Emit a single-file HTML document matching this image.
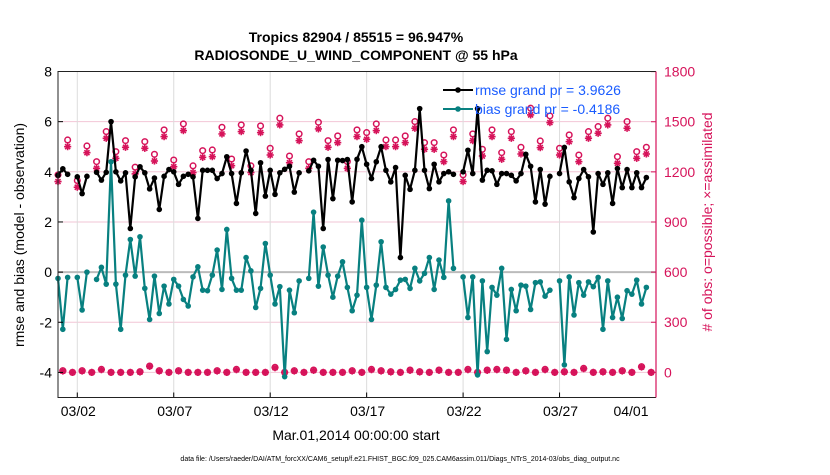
<!DOCTYPE html>
<html><head><meta charset="utf-8"><style>
body{margin:0;background:#fff;}
svg text{font-family:"Liberation Sans",sans-serif;}
</style></head><body>
<svg id="chart" width="830" height="470" viewBox="0 0 830 470" xmlns="http://www.w3.org/2000/svg">
<rect width="830" height="470" fill="#fff"/>
<text x="356" y="42" text-anchor="middle" font-size="14" font-weight="bold">Tropics 82904 / 85515 = 96.947%</text>
<text x="356" y="60" text-anchor="middle" font-size="14" font-weight="bold">RADIOSONDE_U_WIND_COMPONENT @ 55 hPa</text>
<g id="grid"></g>
<g id="marks"></g>
<g id="axes"></g>
<text x="356" y="440" text-anchor="middle" font-size="14">Mar.01,2014 00:00:00 start</text>
<text transform="translate(24,235) rotate(-90)" text-anchor="middle" font-size="14">rmse and bias (model - observation)</text>
<text transform="translate(712,222) rotate(-90)" text-anchor="middle" font-size="14" fill="#d6135a"># of obs: o=possible; ×=assimilated</text>
<text x="400" y="461" text-anchor="middle" font-size="7">data file: /Users/raeder/DAI/ATM_forcXX/CAM6_setup/f.e21.FHIST_BGC.f09_025.CAM6assim.011/Diags_NTrS_2014-03/obs_diag_output.nc</text>
<g>
<line x1="443" y1="90" x2="473" y2="90" stroke="#000" stroke-width="2"/><circle cx="458" cy="90" r="2.8" fill="#000"/>
<text x="475" y="95" font-size="14" fill="#1a5cff">rmse grand pr = 3.9626</text>
<line x1="443" y1="109" x2="473" y2="109" stroke="#088080" stroke-width="2"/><circle cx="458" cy="109" r="2.8" fill="#088080"/>
<text x="475" y="114" font-size="14" fill="#1a5cff">bias grand pr = -0.4186</text>
</g>
</svg>
<script>
const rmse=[3.86,4.12,3.9,null,3.8,3.13,3.82,null,3.98,3.67,3.98,6.0,4.0,3.64,3.96,1.74,3.8,4.2,3.96,3.32,3.75,2.5,3.82,4.09,4.0,3.5,3.82,3.9,3.8,2.14,4.06,4.06,4.06,3.73,3.93,4.6,3.93,2.74,3.96,4.83,4.06,2.34,4.36,3.03,4.06,3.1,3.96,4.1,4.22,3.19,3.96,null,4.04,4.46,4.22,1.74,4.49,2.93,4.46,4.45,4.49,2.8,4.5,5.0,4.3,3.73,4.4,5.0,4.06,3.6,4.17,0.58,3.86,3.3,4.06,6.52,4.06,3.33,4.3,3.6,3.93,4.0,3.9,null,4.0,4.86,3.93,6.52,3.67,4.06,4.04,3.5,3.93,3.93,3.86,3.64,3.93,4.7,4.22,2.8,4.09,2.71,3.82,null,3.93,4.97,3.6,2.97,3.73,4.09,3.8,1.6,3.93,3.5,3.96,2.74,4.13,3.37,4.09,3.37,3.96,3.37,3.77,null];
const bias=[-0.25,-2.28,-0.21,null,-0.21,-1.51,0,null,-0.29,0.19,-0.48,4.4,-0.48,-2.28,-0.12,1.3,-0.16,1.41,-0.65,-1.89,-0.16,-1.65,-0.56,-1.27,-0.29,-0.56,-1.09,-1.35,-0.19,0.21,-0.72,-0.74,-0.12,0.88,-0.69,1.7,-0.25,-0.72,-0.72,0.58,0.05,-1.41,-0.65,1.14,-0.12,-1.27,-0.58,-4.17,-0.72,-1.62,-0.35,null,-0.25,2.39,-0.56,1.0,-0.12,-1.0,-0.16,0.41,-0.61,-1.54,-0.92,2.07,-0.61,-1.89,-0.52,1.21,-0.61,-0.88,-0.69,-0.32,-0.29,-0.65,0.15,-0.35,-0.05,0.58,-0.69,0.48,-0.21,2.84,0.15,null,-0.19,-1.81,-0.19,-4.1,-0.35,-3.17,-0.61,-0.92,0.15,-2.68,-0.69,-1.54,-0.52,-0.56,-1.49,-0.42,-0.39,-0.96,-0.72,null,-0.35,-3.7,-0.19,-1.71,-0.42,-0.92,-0.39,-0.58,-0.21,-2.28,-0.35,-1.81,-1.0,-1.85,-0.74,-0.88,-0.32,-1.27,-0.61,null];
// counts at 00Z/12Z (even indices)
const possible12=[1182,1391,1148,1355,1261,1441,1321,1387,1228,1381,1305,1451,1271,1487,1236,1327,1331,1467,1277,1481,1236,1475,1341,1521,1295,1427,1261,1497,1387,1415,1261,1451,1435,1487,1391,1391,1415,1501,1375,1375,1301,1451,1182,1427,1335,1451,1315,1441,1347,1581,1385,1535,1341,1421,1301,1441,1471,1521,1291,1501,1321,1347];
const assim12=[1142,1351,1108,1315,1221,1401,1281,1347,1188,1341,1265,1411,1231,1447,1196,1287,1291,1427,1237,1441,1196,1435,1301,1481,1255,1387,1221,1457,1347,1375,1221,1411,1395,1447,1351,1351,1375,1461,1335,1335,1261,1411,1142,1387,1295,1411,1275,1401,1307,1541,1345,1495,1301,1381,1261,1401,1431,1481,1251,1461,1281,1307];
// counts at 06Z/18Z (odd indices)
const possible06=[10,0,10,0,18,0,0,0,4,38,10,0,10,0,0,0,10,0,18,0,0,0,30,0,10,0,14,0,0,0,10,0,18,10,4,0,14,4,0,14,0,0,18,0,14,18,14,0,10,0,18,0,4,0,24,0,4,0,10,0,34,0];
const assim06=[8,0,8,0,16,0,0,0,2,36,8,0,8,0,0,0,8,0,16,0,0,0,28,0,8,0,12,0,0,0,8,0,16,8,2,0,12,2,0,12,0,0,16,0,12,16,12,0,8,0,16,0,2,0,22,0,2,0,8,0,32,0];
const dateTicks=["03/02","03/07","03/12","03/17","03/22","03/27","04/01"];
const dateTickDays=[1,6,11,16,21,26,31];
const leftTicks=[8,6,4,2,0,-2,-4];
const rightTicks=[1800,1500,1200,900,600,300,0];

const X0=58,X1=656,Y0=71.5,Y1=397.5;
const NS='http://www.w3.org/2000/svg';
const xDay=d=>X0+(X1-X0)*d/31;
const xIdx=i=>xDay(i*0.25);
const yL=v=>Y0+(8-v)*(Y1-Y0)/13;
const yR=c=>yL(0)+100.25-c*(200.5/1200);
function mk(tag,attrs,parent){const e=document.createElementNS(NS,tag);for(const k in attrs)e.setAttribute(k,attrs[k]);parent.appendChild(e);return e;}
const grid=document.getElementById('grid'),marks=document.getElementById('marks'),axes=document.getElementById('axes');

leftTicks.forEach(v=>{
  if(v!==0){const l=mk('line',{x1:X0,x2:X1,y1:yL(v),y2:yL(v),stroke:'#f2c6d6','stroke-width':1},grid);
  
  }
  const t=mk('text',{x:X0-6,y:yL(v)+5,'text-anchor':'end','font-size':14},axes);t.textContent=v;
  
  
  mk('line',{x1:X0,x2:X0+5,y1:yL(v),y2:yL(v),stroke:'#000'},axes);
});
dateTickDays.forEach((d,k)=>{
  const l=mk('line',{x1:xDay(d),x2:xDay(d),y1:Y0,y2:Y1,stroke:'#dcdcdc','stroke-width':1},grid);
  
  
  const last=k===dateTicks.length-1;
  const t=mk('text',{x:last?xDay(d)-25:xDay(d)+1,y:416,'text-anchor':'middle','font-size':14},axes);t.textContent=dateTicks[k];
  
  
  mk('line',{x1:xDay(d),x2:xDay(d),y1:Y1,y2:Y1-5,stroke:'#000'},axes);
});
const z=mk('line',{x1:X0,x2:X1,y1:yL(0),y2:yL(0),stroke:'#bbb','stroke-width':2},grid);


rightTicks.forEach(c=>{
  const t=mk('text',{x:X1+8,y:yR(c)+5,'font-size':14,fill:'#d6135a'},axes);t.textContent=c;
  
  
  mk('line',{x1:X1,x2:X1-5,y1:yR(c),y2:yR(c),stroke:'#d6135a'},axes);
});
const frame=mk('path',{d:`M${X1},${Y0} L${X0},${Y0} L${X0},${Y1} L${X1},${Y1}`,fill:'none',stroke:'#222','stroke-width':1},axes);


const ra=mk('line',{x1:X1,x2:X1,y1:Y0,y2:Y1,stroke:'#d6135a','stroke-width':1.2},axes);



function star(cx,cy,parent,name){
  const g=mk('g',{stroke:'#d6135a','stroke-width':1.6},parent);
  
  
  const r=3.6;
  mk('line',{x1:cx-r,x2:cx+r,y1:cy,y2:cy},g);
  mk('line',{x1:cx,x2:cx,y1:cy-r,y2:cy+r},g);
  mk('line',{x1:cx-r*0.7,x2:cx+r*0.7,y1:cy-r*0.7,y2:cy+r*0.7},g);
  mk('line',{x1:cx-r*0.7,x2:cx+r*0.7,y1:cy+r*0.7,y2:cy-r*0.7},g);
}
function countMarks(pos,asm,offset){
  pos.forEach((c,k)=>{
    const i=offset+2*k;
    star(xIdx(i),yR(asm[k]),marks,'assimilated-count-marker');
    const o=mk('circle',{cx:xIdx(i),cy:yR(c),r:2.8,fill:'none',stroke:'#d6135a','stroke-width':1.5},marks);
    
    
  });
}
countMarks(possible12,assim12,0);
countMarks(possible06,assim06,1);

function series(vals,color,name){
  let d='',pen=false;
  vals.forEach((v,i)=>{if(v===null){pen=false;return;}d+=(pen?'L':'M')+xIdx(i).toFixed(1)+','+yL(v).toFixed(1);pen=true;});
  const p=mk('path',{d:d,fill:'none',stroke:color,'stroke-width':2.2,'stroke-linejoin':'round'},marks);
  
  
  vals.forEach((v,i)=>{if(v===null)return;
    const c=mk('circle',{cx:xIdx(i),cy:yL(v),r:2.8,fill:color},marks);
    
    
  });
}
series(rmse,'#000','rmse');
series(bias,'#088080','bias');
</script>
</body></html>
